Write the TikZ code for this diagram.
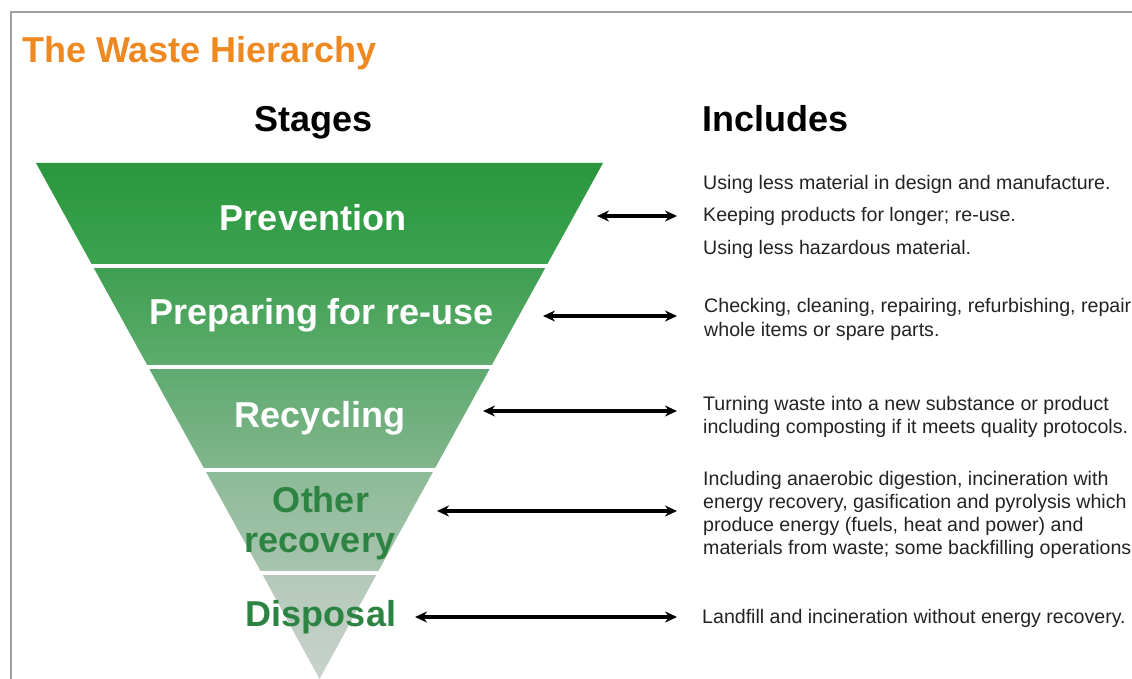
\documentclass[tikz,border=0pt]{standalone}
\usepackage{fontspec}
\setmainfont{Liberation Sans}
\usetikzlibrary{arrows.meta}
\definecolor{titleorange}{RGB}{238,137,33}
\definecolor{framegrey}{RGB}{160,160,160}
\definecolor{darkgreen}{RGB}{45,132,66}
\definecolor{infogrey}{RGB}{35,35,35}
\definecolor{bAt}{RGB}{42,150,60}
\definecolor{bAb}{RGB}{60,163,80}
\definecolor{bBt}{RGB}{62,159,80}
\definecolor{bBb}{RGB}{94,172,110}
\definecolor{bCt}{RGB}{94,170,112}
\definecolor{bCb}{RGB}{130,182,140}
\definecolor{bDt}{RGB}{140,186,150}
\definecolor{bDb}{RGB}{168,196,175}
\definecolor{bEt}{RGB}{178,200,185}
\definecolor{bEb}{RGB}{202,210,205}
\begin{document}
\begin{tikzpicture}[x=1pt,y=-1pt,
  bigtext/.style={inner sep=0pt, font=\fontsize{36}{40}\selectfont\bfseries},
  stagelight/.style={bigtext, anchor=base, text=white},
  stagedark/.style={bigtext, anchor=base, text=darkgreen},
  header/.style={bigtext, text=black},
  info/.style={inner sep=0pt, anchor=base west, text=infogrey, font=\fontsize{19.6}{23}\selectfont},
  arr/.style={{Stealth[length=12pt,width=11pt]}-{Stealth[length=12pt,width=11pt]}, line width=3.2pt, black},
  sep/.style={white, line width=3.5pt}]
\useasboundingbox (0,0) rectangle (1132,679);
\fill[white] (0,0) rectangle (1132,679);
% frame
\draw[framegrey, line width=1.5pt] (11,690) -- (11,12) -- (1140,12);

% title and headers
\node[header, anchor=base west, text=titleorange] (title) at (22,63) {The Waste Hierarchy};
\node[header, anchor=base] (stages) at (313.5,132) {Stages};
\node[header, anchor=base west] (includes) at (702,132) {Includes};

% triangle bands
\shade[top color=bAt, bottom color=bAb] (36,163) -- (603,163) -- (546.3,266) -- (92.7,266) -- cycle;
\shade[top color=bBt, bottom color=bBb] (92.7,266) -- (546.3,266) -- (490.7,367) -- (148.3,367) -- cycle;
\shade[top color=bCt, bottom color=bCb] (148.3,367) -- (490.7,367) -- (434.0,470) -- (205.0,470) -- cycle;
\shade[top color=bDt, bottom color=bDb] (205.0,470) -- (434.0,470) -- (377.3,573) -- (261.7,573) -- cycle;
\shade[top color=bEt, bottom color=bEb] (261.7,573) -- (377.3,573) -- (319.5,679) -- cycle;
\draw[sep] (80,266) -- (560,266);
\draw[sep] (140,367) -- (500,367);
\draw[sep] (195,470) -- (445,470);
\draw[sep] (250,573) -- (390,573);

% stage labels
\node[stagelight] (prev) at (313,230) {Prevention};
\node[stagelight] (prep) at (322,324) {Preparing for re-use};
\node[stagelight] (recy) at (320,427) {Recycling};
\node[stagedark] (oth1) at (321,512) {Other};
\node[stagedark] (oth2) at (320,552) {recovery};
\node[stagedark] (disp) at (321,626) {Disposal};

% info texts
\node[info] (i1a) at (703,190) {Using less material in design and manufacture.};
\node[info] (i1b) at (703,222) {Keeping products for longer; re-use.};
\node[info] (i1c) at (703,254) {Using less hazardous material.};
\node[info] (i2a) at (704,312) {Checking, cleaning, repairing, refurbishing, repair};
\node[info] (i2b) at (704,336) {whole items or spare parts.};
\node[info] (i3a) at (703,410) {Turning waste into a new substance or product};
\node[info] (i3b) at (703,433) {including composting if it meets quality protocols.};
\node[info] (i4a) at (703,485) {Including anaerobic digestion, incineration with};
\node[info] (i4b) at (703,508) {energy recovery, gasification and pyrolysis which};
\node[info] (i4c) at (703,531) {produce energy (fuels, heat and power) and};
\node[info] (i4d) at (703,554) {materials from waste; some backfilling operations};
\node[info] (i5a) at (702,623) {Landfill and incineration without energy recovery.};

% arrow end points
\coordinate (a1l) at (597,216); \coordinate (a1r) at (677,216);
\coordinate (a2l) at (543,316); \coordinate (a2r) at (677,316);
\coordinate (a3l) at (483,411); \coordinate (a3r) at (677,411);
\coordinate (a4l) at (437,511); \coordinate (a4r) at (677,511);
\coordinate (a5l) at (415,617); \coordinate (a5r) at (677,617);
\draw[arr] (a1l) -- (a1r);
\draw[arr] (a2l) -- (a2r);
\draw[arr] (a3l) -- (a3r);
\draw[arr] (a4l) -- (a4r);
\draw[arr] (a5l) -- (a5r);
\end{tikzpicture}
\end{document}
